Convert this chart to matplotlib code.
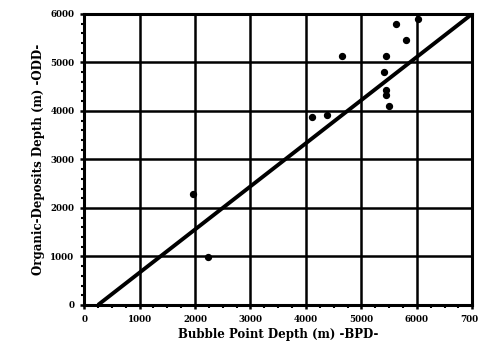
import matplotlib.pyplot as plt
from matplotlib.ticker import MultipleLocator

# Bubble point depth vs organic deposit depth (m)
bpd = [5620, 5800, 4650, 5440, 6020, 5400, 5440, 5440, 5495, 4110, 4380, 1965, 2235]
odd = [5785, 5455, 5125, 5125, 5890, 4795, 4440, 4320, 4110, 3865, 3925, 2295, 990]

# fitted line end points
fit_x = [250, 7000]
fit_y = [0, 6000]

x_ticks = [0, 1000, 2000, 3000, 4000, 5000, 6000, 7000]
y_ticks = [0, 1000, 2000, 3000, 4000, 5000, 6000]

plt.rcParams['font.family'] = ['DejaVu Serif']
plt.rcParams['font.weight'] = 'bold'

fig = plt.figure(figsize=(4.78, 3.55), dpi=100)
ax = fig.add_axes([0.176, 0.141, 0.812, 0.82])

ax.plot(fit_x, fit_y, color='black', lw=2.8, solid_capstyle='butt', zorder=3)
ax.scatter(bpd, odd, s=18, color='black', zorder=4)

ax.set_xlim(0, 7000)
ax.set_ylim(0, 6000)
ax.set_xticks(x_ticks)
ax.set_yticks(y_ticks)
ax.xaxis.set_minor_locator(MultipleLocator(250))
ax.yaxis.set_minor_locator(MultipleLocator(200))
ax.grid(True, which='major', color='black', lw=1.8)
ax.tick_params(which='major', length=3, width=1.8, labelsize=6.3, pad=4)
ax.tick_params(which='minor', length=2, width=1.5)
for s in ax.spines.values():
    s.set_linewidth(2.2)

ax.set_xlabel('Bubble Point Depth (m) -BPD-', fontsize=8.5, fontweight='heavy', labelpad=3)
ax.set_ylabel('Organic-Deposits Depth (m) -ODD-', fontsize=8.5, fontweight='heavy', labelpad=4)

fig.savefig('out.png', dpi=100)
